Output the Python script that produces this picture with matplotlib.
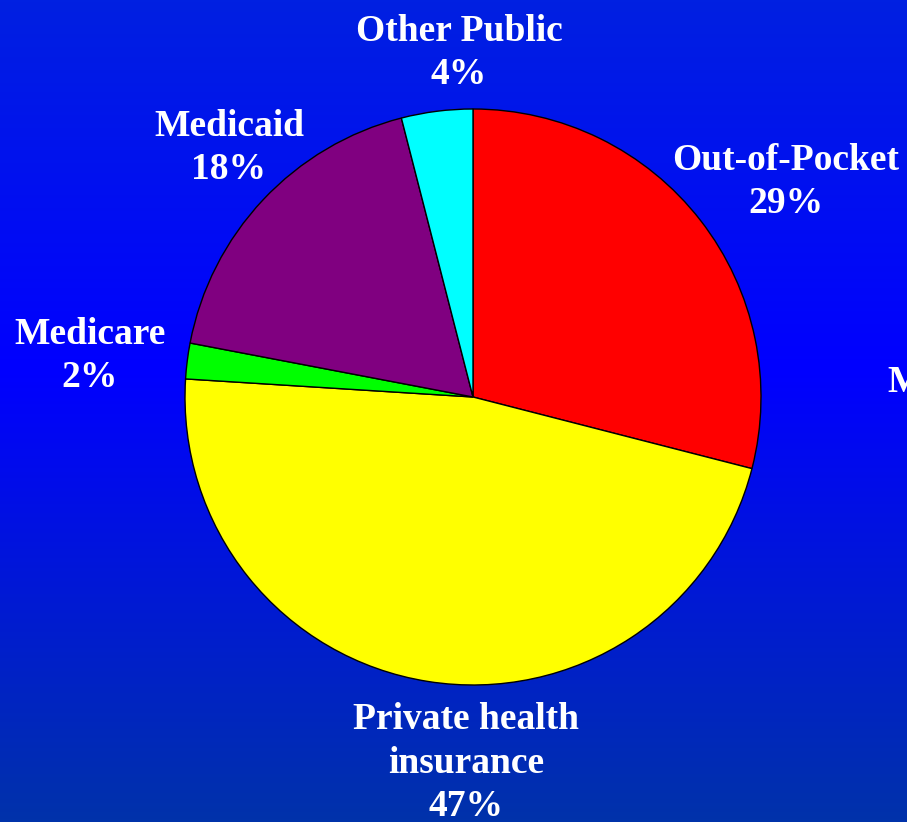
import numpy as np
import matplotlib
matplotlib.use("Agg")
import matplotlib.pyplot as plt

categories = ["Out-of-Pocket", "Private health\ninsurance", "Medicare", "Medicaid", "Other Public"]
values = [29, 47, 2, 18, 4]
colors = ["#FF0000", "#FFFF00", "#00FF00", "#800080", "#00FFFF"]

W, H = 907, 822
fig = plt.figure(figsize=(W / 100, H / 100), dpi=100)
ax = fig.add_axes([0, 0, 1, 1])
ax.set_xlim(0, W)
ax.set_ylim(0, H)
ax.axis("off")

# background gradient (top -> middle bright -> bottom darker)
ys = np.linspace(0, 1, 256)
top = np.array([0, 32, 225]) / 255
mid = np.array([0, 0, 255]) / 255
bot = np.array([0, 50, 170]) / 255
grad = np.zeros((256, 1, 3))
for i, t in enumerate(ys):
    if t < 0.45:
        f = t / 0.45
        c = top * (1 - f) + mid * f
    else:
        f = (t - 0.45) / 0.55
        c = mid * (1 - f) + bot * f
    grad[i, 0] = c
ax.imshow(grad, extent=[0, W, 0, H], aspect="auto", origin="upper", zorder=0)

cx, cy, r = 473, H - 397, 288
ax.pie(values, colors=colors, startangle=90, counterclock=False,
       center=(cx, cy), radius=r,
       wedgeprops=dict(edgecolor="black", linewidth=1.0), frame=True)
ax.set_xlim(0, W)
ax.set_ylim(0, H)
ax.set_aspect("auto")
ax.axis("off")

label_pos = {
    "Out-of-Pocket": (786, 182),
    "Private health\ninsurance": (466, 763),
    "Medicare": (90, 356),
    "Medicaid": (229, 148),
    "Other Public": (459, 53),
}
fp = dict(family="Liberation Serif", weight="bold", color="white", fontsize=27,
          ha="center", va="center", linespacing=1.3)
for name, v in zip(categories, values):
    x, y = label_pos[name]
    ax.text(x, H - y, f"{name}\n{v}%", **fp)

ax.text(887, H - 383, "M", family="Liberation Serif", weight="bold", color="white",
        fontsize=27, ha="left", va="center")

fig.savefig("out.png", dpi=100)
